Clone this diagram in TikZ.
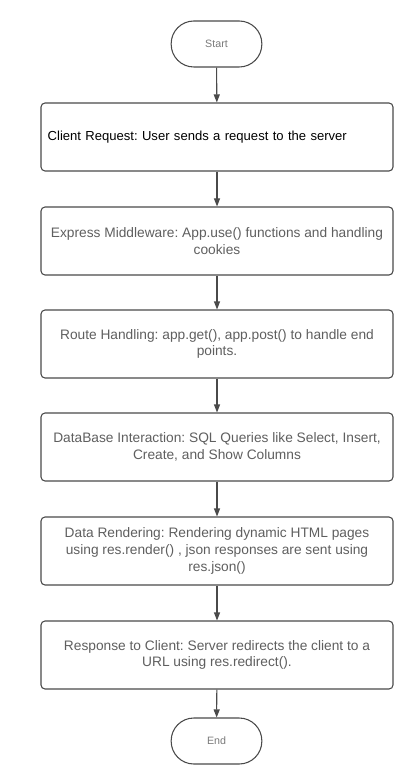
\documentclass[tikz,border=0pt]{standalone}
\usepackage{fontspec}
\setmainfont{Liberation Sans}
\usetikzlibrary{arrows.meta}
\definecolor{edgec}{HTML}{4A4A4A}
\definecolor{txtc}{HTML}{5F5F5F}
\definecolor{termtxt}{HTML}{7A7A7A}
\frenchspacing
\begin{document}
\begin{tikzpicture}[x=0.75pt,y=-0.75pt,
  stepbox/.style={draw=edgec, line width=0.8pt, rounded corners=3pt, minimum width=264pt, minimum height=51pt, align=center, inner sep=0pt, font=\fontsize{10.3}{12.5}\selectfont, text=txtc},
  termbox/.style={draw=edgec, line width=0.8pt, rounded corners=17pt, minimum width=68pt, minimum height=34.5pt, inner sep=0pt, font=\fontsize{8}{9}\selectfont, text=termtxt},
  conn/.style={draw=edgec, line width=0.8pt, -{Triangle[length=6pt,width=4.5pt]}}]
\useasboundingbox (0,0) rectangle (413,780);
\fill[white] (0,0) rectangle (413,780);
\node[termbox] (start) at (216.5,44) {Start};
\node[stepbox, text=black, align=left, text width=254pt, font=\fontsize{9.8}{12.5}\selectfont] (b1) at (217,137) {Client Request: User sends a request to the server\vphantom{p}\\[3pt]};
\node[stepbox] (b2) at (217,241) {Express Middleware: App.use() functions and handling\\ cookies};
\node[stepbox] (b3) at (217,344) {Route Handling: app.get(), app.post() to handle end\\ points.};
\node[stepbox] (b4) at (217,447) {DataBase Interaction: SQL Queries like Select, Insert,\\ Create, and Show Columns};
\node[stepbox] (b5) at (217,551) {Data Rendering: Rendering dynamic HTML pages\\ using res.render() , json responses are sent using\\ res.json()};
\node[stepbox] (b6) at (217,655) {Response to Client: Server redirects the client to a\\ URL using res.redirect().};
\node[termbox] (end) at (216.5,741) {End};
\draw[conn] (start) -- (b1);
\draw[conn] (b1) -- (b2);
\draw[conn] (b2) -- (b3);
\draw[conn] (b3) -- (b4);
\draw[conn] (b4) -- (b5);
\draw[conn] (b5) -- (b6);
\draw[conn] (b6) -- (end);
\end{tikzpicture}
\end{document}
